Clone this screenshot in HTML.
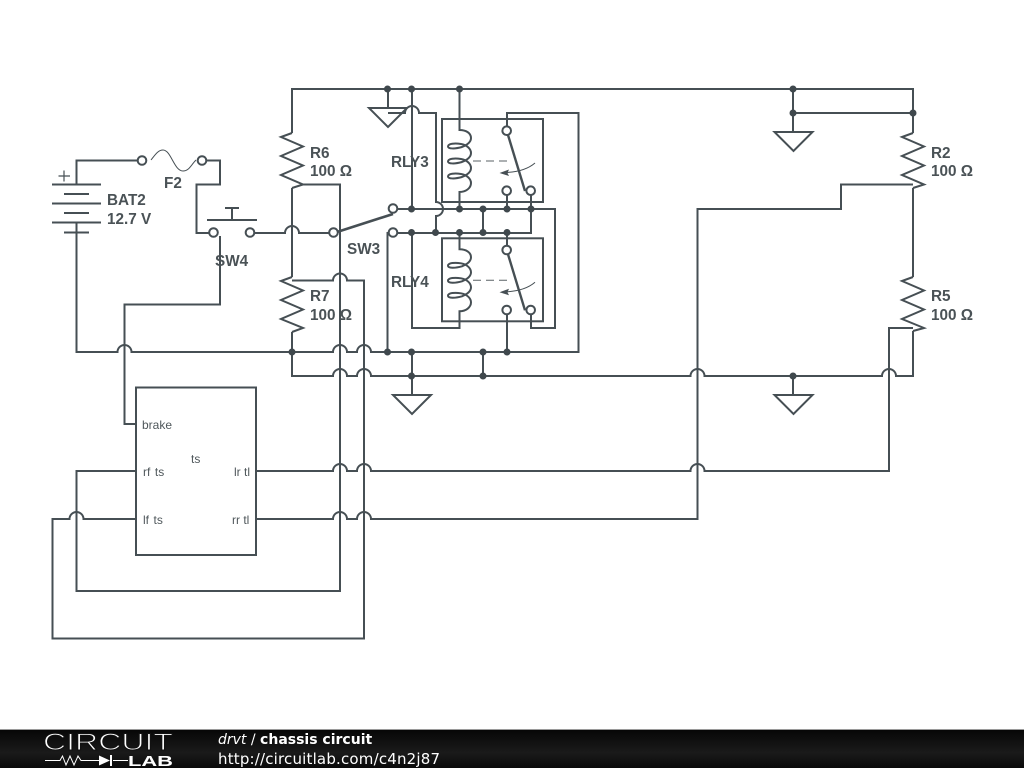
<!DOCTYPE html>
<html><head><meta charset="utf-8"><style>
html,body{margin:0;padding:0;background:#fff;width:1024px;height:768px;overflow:hidden}
svg{position:absolute;left:0;top:0}
.w{fill:none;stroke:#464f54;stroke-width:2}
.t{fill:#fff;stroke:#464f54;stroke-width:2}
.d{fill:#3f484d}
.b{font:bold 15.3px "Liberation Sans",sans-serif;fill:#4a5256}
.s{font:12px "Liberation Sans",sans-serif;fill:#4f575b}
</style></head><body>
<svg width="1024" height="768" viewBox="0 0 1024 768" xmlns="http://www.w3.org/2000/svg">
<defs>
<linearGradient id="fg" x1="0" y1="0" x2="0" y2="1">
<stop offset="0" stop-color="#060606"/><stop offset=".6" stop-color="#1a1a1a"/><stop offset="1" stop-color="#0a0a0a"/>
</linearGradient>
<g id="rly">
<rect class="w" x="442" y="119" width="101" height="83"/>
<path class="w" d="M459.5 119V130C466 130 471 133 471 138C471 142 467 145 462 147C455 149 448 149 448 146.500C448 143.500 455 143 461 144C467 145 471 149 471 153C471 157 467 160 462 162C455 164 448 164 448 161.500C448 158.500 455 158 461 159C467 160 471 164 471 168C471 172 467 175 462 177C455 179 448 179 448 176.500C448 173.500 455 173 461 174C467 175 471 179 471 183C471 188 466 192 459.500 192V202" stroke-width="1.8"/>
<path d="M473 161H512" fill="none" stroke="#5a6266" stroke-width="1" stroke-dasharray="8 5"/>
<path d="M508 135L525 191" fill="none" stroke="#464f54" stroke-width="2.4"/>
<path d="M535 163C528 169 518 172 506 172.500" fill="none" stroke="#464f54" stroke-width="1"/>
<path d="M499.500 173L509 169.500L507.500 173L509 176Z" fill="#464f54"/>
</g>
</defs>

<!-- wires -->
<path class="w" d="M292 133V89H913V133"/>
<path class="w" d="M793 89V132M793 113H913"/>
<path class="w" d="M913 188V277M913 184.500H841V209H697.500V519H371A7 7 0 0 0 357 519H347A7 7 0 0 0 333 519H256"/>
<path class="w" d="M913 331V376H896A7 7 0 0 0 882 376H704.500A7 7 0 0 0 690.500 376H371A7 7 0 0 0 357 376H347A7 7 0 0 0 333 376H292V332"/>
<path class="w" d="M913 328H889V471H704.500A7 7 0 0 0 690.500 471H371A7 7 0 0 0 357 471H347A7 7 0 0 0 333 471H256"/>
<path class="w" d="M292 188V277M303 184.500H340V591H76.500V471H136"/>
<path class="w" d="M292 280.500H333A7 7 0 0 1 347 280.500H364V638.500H52.500V519H69.500A7 7 0 0 1 83.500 519H136"/>
<path class="w" d="M76.500 222V352H117.500A7 7 0 0 1 131.500 352H333A7 7 0 0 1 347 352H357A7 7 0 0 1 371 352H578.500V113H507V131"/>
<path class="w" d="M76.500 184V160.500H138M206 160.500H220V184.500H196.500V233H209M220 236V304.500H124.500V424H136"/>
<path class="w" d="M254 233H285A7 7 0 0 1 299 233H329"/>
<path class="w" d="M397 209H555V328H531V310M397 233H531V190"/>
<path class="w" d="M389 233H387.500V352M412 89V209M459.500 89V119M507 209V195M483 209V233"/>
<path class="w" d="M388 89V108M388 113H405A7 7 0 0 1 419 113H436V202A7 7 0 0 1 436 216V233"/>
<path class="w" d="M412 233V328H459.500V322M459.500 202V209M459.500 233V238M507 233V246M507 314V352"/>
<path class="w" d="M412 352V394M483 352V376M793 376V394"/>

<!-- grounds -->
<path class="w" d="M369 108H407L388 127Z"/>
<path class="w" d="M774.500 132H812.500L793.500 151Z"/>
<path class="w" d="M393 395H431L412 414Z"/>
<path class="w" d="M774.500 395H812.500L793.500 414Z"/>

<!-- resistors -->
<path class="w" d="M292 133L281 137L303 146.500L281 156L303 165.500L281 175L303 184.500L292 188"/>
<path class="w" d="M292 277L281 281L303 290.500L281 300L303 309.500L281 319L303 328L292 332"/>
<path class="w" d="M913 133L902 137L924 146.500L902 156L924 165.500L902 175L924 184.500L913 188"/>
<path class="w" d="M913 277L902 281L924 290.500L902 300L924 309.500L902 319L924 328L913 331"/>

<!-- battery -->
<path class="w" d="M52 184.500H101M64 194H89M52 203.500H101M64 213H89M52 222.500H101M64 232.500H89" stroke-width="2"/>
<path d="M58.500 176H70M64 170.500V181.500" fill="none" stroke="#464f54" stroke-width="1.2"/>

<!-- fuse -->
<path d="M151 160C155 155 158 150 163 150C171 150 174 171 183 171C189 171 191 165 196 160" fill="none" stroke="#464f54" stroke-width="1"/>

<!-- SW4 bar -->
<path class="w" d="M207 220H257" stroke-width="2.400"/>
<path class="w" d="M232 220V208M225 208H239"/>

<!-- SW3 arm -->
<path d="M337 232L393 214" fill="none" stroke="#464f54" stroke-width="2.600"/>

<!-- relays -->
<use href="#rly"/>
<use href="#rly" y="119.300"/>

<!-- block -->
<rect class="w" x="136" y="387.500" width="120" height="167.500" fill="#fff"/>

<!-- terminals -->
<circle class="t" cx="142" cy="160.500" r="4.300"/>
<circle class="t" cx="202" cy="160.500" r="4.300"/>
<circle class="t" cx="213.500" cy="232.500" r="4.300"/>
<circle class="t" cx="250" cy="232.500" r="4.300"/>
<circle class="t" cx="333.500" cy="232.500" r="4.300"/>
<circle class="t" cx="393" cy="208.500" r="4.300"/>
<circle class="t" cx="393" cy="232.500" r="4.300"/>
<circle class="t" cx="506.700" cy="130.700" r="4.300"/>
<circle class="t" cx="506.700" cy="190.700" r="4.300"/>
<circle class="t" cx="530.700" cy="190.700" r="4.300"/>
<circle class="t" cx="506.700" cy="250" r="4.300"/>
<circle class="t" cx="506.700" cy="310" r="4.300"/>
<circle class="t" cx="530.700" cy="310" r="4.300"/>

<!-- dots -->
<g class="d">
<circle cx="387.500" cy="89" r="3.500"/><circle cx="411.500" cy="89" r="3.500"/><circle cx="459.500" cy="89" r="3.500"/><circle cx="793" cy="89" r="3.500"/>
<circle cx="793" cy="113" r="3.500"/><circle cx="913" cy="113" r="3.500"/>
<circle cx="411.500" cy="209" r="3.500"/><circle cx="459.500" cy="209" r="3.500"/><circle cx="483" cy="209" r="3.500"/><circle cx="507" cy="209" r="3.500"/><circle cx="531" cy="209" r="3.500"/>
<circle cx="411.500" cy="232.500" r="3.500"/><circle cx="435.500" cy="232.500" r="3.500"/><circle cx="459.500" cy="232.500" r="3.500"/><circle cx="483" cy="232.500" r="3.500"/><circle cx="507" cy="232.500" r="3.500"/>
<circle cx="292" cy="352" r="3.500"/><circle cx="387.500" cy="352" r="3.500"/><circle cx="411.500" cy="352" r="3.500"/><circle cx="483" cy="352" r="3.500"/><circle cx="507" cy="352" r="3.500"/>
<circle cx="411.500" cy="376" r="3.500"/><circle cx="483" cy="376" r="3.500"/><circle cx="793" cy="376" r="3.500"/>
</g>

<!-- labels -->
<text class="b" x="310" y="158">R6</text><text class="b" x="310" y="176">100 Ω</text>
<text class="b" x="310" y="301">R7</text><text class="b" x="310" y="320">100 Ω</text>
<text class="b" x="931" y="158">R2</text><text class="b" x="931" y="176">100 Ω</text>
<text class="b" x="931" y="301">R5</text><text class="b" x="931" y="320">100 Ω</text>
<text class="b" x="391" y="167">RLY3</text><text class="b" x="391" y="287">RLY4</text>
<text class="b" x="347" y="254">SW3</text><text class="b" x="215" y="266">SW4</text>
<text class="b" x="164" y="188">F2</text>
<text class="b" x="107" y="205">BAT2</text><text class="b" x="107" y="224">12.7 V</text>
<text class="s" x="142" y="429">brake</text>
<text class="s" x="191" y="463">ts</text>
<text class="s" x="143" y="476" word-spacing="1.2">rf ts</text>
<text class="s" x="143" y="524" word-spacing="1.2">lf ts</text>
<text class="s" x="234" y="476">lr tl</text>
<text class="s" x="232" y="524">rr tl</text>

<!-- footer -->
<rect x="0" y="729" width="1024" height="39" fill="url(#fg)"/>
<rect x="0" y="729" width="1024" height="1" fill="#9a9a9a"/>
<text x="43" y="750" font-family="Liberation Sans,sans-serif" font-size="24" fill="#fff" stroke="#121212" stroke-width="1" textLength="130" lengthAdjust="spacingAndGlyphs">CIRCUIT</text>
<path d="M45 760.500H60L62.500 756L66 765L70 756L74 765L78 756L81 760.500H99M113 760.500H128" fill="none" stroke="#fff" stroke-width="1"/>
<path d="M99 755.500L110 760.500L99 765.500Z" fill="#fff"/>
<path d="M111 755V766" stroke="#fff" stroke-width="2"/>
<text x="128" y="766" font-family="Liberation Sans,sans-serif" font-weight="bold" font-size="15" fill="#fff" textLength="45" lengthAdjust="spacingAndGlyphs">LAB</text>
<text x="218" y="744" font-family="DejaVu Sans,sans-serif" font-size="14" fill="#fff"><tspan font-style="italic">drvt</tspan> / <tspan font-weight="bold">chassis circuit</tspan></text>
<text x="218" y="764" font-family="DejaVu Sans,sans-serif" font-size="15" fill="#fff" textLength="222">http://circuitlab.com/c4n2j87</text>
</svg>
</body></html>
